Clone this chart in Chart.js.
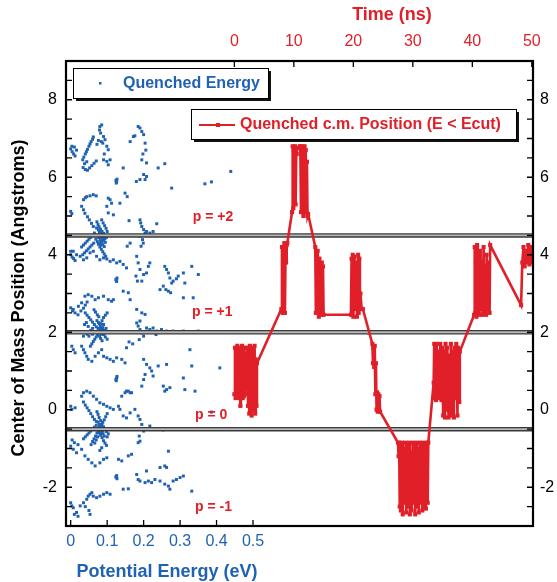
<!DOCTYPE html>
<html>
<head>
<meta charset="utf-8">
<script src="https://cdn.jsdelivr.net/npm/chart.js@4.4.0/dist/chart.umd.min.js"></script>
<style>
  body { margin: 0; background: #fff; }
  canvas { display: block; }
</style>
</head>
<body>
<canvas id="chart" width="557" height="582"></canvas>
<script>
// tick labels
const energyTicks = [0, 0.1, 0.2, 0.3, 0.4, 0.5];
const timeTicks = [0, 10, 20, 30, 40, 50];
const positionTicks = [-2, 0, 2, 4, 6, 8];
const barrierLines = [4.5, 2.0, -0.5];
const pLabels = ['p = +2', 'p = +1', 'p = 0', 'p = -1'];

// quenched energy points [eV, Angstrom]
const bandTop = [
  [0.000,6.73],[0.004,6.66],[0.008,6.6],[0.012,6.55],[0.003,6.8],[0.010,6.78],[0.016,6.7],
  [0.033,6.45],[0.036,6.52],[0.040,6.6],[0.043,6.66],[0.046,6.72],[0.050,6.8],[0.053,6.86],[0.056,6.92],[0.060,6.98],[0.062,7.04],
  [0.034,6.25],[0.040,6.2],[0.046,6.18],[0.052,6.24],[0.058,6.3],[0.064,6.36],[0.070,6.42],[0.038,6.35],[0.044,6.4],
  [0.080,7.31],[0.085,7.35],[0.079,7.22],[0.082,7.14],[0.090,7.05],[0.094,6.97],[0.088,6.88],[0.099,6.8],[0.103,6.71],
  [0.090,6.45],[0.099,6.41],[0.108,6.45],[0.103,6.32],[0.076,6.95],[0.072,6.85],[0.084,6.92],[0.092,6.6],
  [0.124,5.92],[0.126,5.88],[0.127,5.95],[0.125,5.85],
  [0.144,6.24],[0.163,6.92],[0.172,7.05],[0.176,7.07],
  [0.185,7.31],[0.19,7.27],[0.195,7.18],[0.2,7.1],[0.204,6.88],[0.208,6.37],[0.195,6.45],[0.2,6.07],
  [0.208,6.02],[0.204,5.94],[0.19,5.94],[0.18,5.89],[0.198,6.6],[0.206,6.7],
  [0.24,6.24],[0.258,6.35],[0.277,5.72],[0.368,5.83],[0.386,5.88],[0.439,6.15]
];
const bandUpper = [
  [0.135,5.33],[0.149,5.59],[0.155,5.5],[0.16,4.88],
  [0.035,5.42],[0.04,5.47],[0.044,5.5],[0.053,5.52],[0.062,5.55],[0.07,5.52],
  [0.103,5.46],[0.108,5.42],[0.112,5.33],[0.099,5.25],[0.103,5.08],[0.117,5.03],
  [0.0,5.12],[0.003,5.06],
  [0.03,5.25],[0.035,5.16],[0.039,5.07],[0.046,4.98],[0.051,4.9],[0.057,4.81],[0.062,4.73],[0.071,4.69],
  [0.076,4.64],[0.08,4.55],[0.085,4.47],[0.089,4.39],
  [0.072,4.85],[0.075,4.78],[0.078,4.72],[0.082,4.66],[0.086,4.6],[0.09,4.55],[0.094,4.5],[0.098,4.45],
  [0.074,4.5],[0.077,4.44],[0.081,4.38],[0.084,4.32],[0.088,4.26],[0.092,4.21],[0.079,4.6],[0.083,4.52],
  [0.087,4.45],[0.091,4.38],[0.095,4.32],[0.069,4.4],[0.073,4.34],[0.076,4.27],[0.08,4.2],[0.084,4.14],
  [0.088,4.08],[0.092,4.02],[0.096,3.96],[0.1,4.6],[0.097,4.68],[0.093,4.75],[0.089,4.82],[0.085,4.9],
  [0.078,4.5],[0.082,4.45],[0.086,4.52],[0.09,4.47],[0.079,4.3],[0.083,4.25],[0.087,4.35],[0.094,4.42],
  [0.03,4.2],[0.035,4.25],[0.04,4.3],[0.045,4.35],[0.05,4.4],[0.055,4.45],[0.06,4.5],[0.065,4.56],
  [0.033,4.0],[0.038,4.05],[0.043,4.1],[0.048,4.15],[0.053,4.2],[0.058,4.25],[0.063,4.3],
  [0.0,4.0],[0.004,3.94],[0.008,3.9],[0.012,3.85],[0.0,4.09],
  [0.007,4.09],[0.016,4.0],[0.026,3.96],[0.035,3.87],[0.044,3.92],[0.053,4.05],[0.062,4.09],[0.071,3.96],
  [0.08,3.87],[0.09,3.92],[0.099,3.89],[0.108,3.83],[0.117,3.87],[0.126,3.79],[0.135,3.83],[0.144,3.75],[0.153,3.66],
  [0.19,4.9],[0.192,4.82],[0.195,4.73],[0.2,4.65],[0.204,4.56],[0.208,4.6],[0.19,4.48],[0.197,4.39],
  [0.217,4.56],[0.226,4.6],[0.236,4.8],[0.199,4.3],[0.193,4.22],[0.155,4.22],[0.163,4.3]
];
const bandMiddle = [
  [0.124,3.36],[0.126,3.31],[0.127,3.4],[0.125,3.34],
  [0.181,3.96],[0.185,3.79],[0.19,3.62],[0.179,3.45],[0.183,3.32],[0.195,3.32],[0.2,3.49],[0.208,3.53],[0.213,3.7],[0.217,3.79],
  [0.258,3.7],[0.263,3.62],[0.268,3.53],[0.272,3.4],[0.277,3.27],[0.261,3.1],[0.268,3.06],[0.274,3.02],[0.245,3.1],
  [0.254,3.19],[0.281,3.32],[0.29,3.38],[0.295,3.45],[0.309,3.53],[0.313,3.27],[0.332,3.7],[0.35,3.49],[0.309,2.89],[0.336,2.89],
  [0.144,3.06],[0.158,3.02],[0.163,2.84],[0.117,2.84],
  [0.181,2.59],[0.195,2.5],[0.19,2.29],[0.204,2.46],
  [0.0,2.63],[0.007,2.59],[0.021,2.67],[0.03,2.76],[0.039,2.93],[0.048,2.97],[0.058,2.93],[0.067,2.84],
  [0.076,2.89],[0.09,2.93],[0.103,2.84],[0.112,2.8],
  [0.005,2.55],[0.012,2.5],[0.02,2.45],[0.028,2.55],[0.035,2.62],[0.04,2.7],[0.045,2.78],
  [0.04,2.5],[0.045,2.44],[0.05,2.38],[0.055,2.32],[0.06,2.26],[0.065,2.2],[0.07,2.14],[0.075,2.1],[0.08,2.05],
  [0.085,2.0],[0.09,1.94],[0.095,1.88],[0.1,1.82],
  [0.1,2.5],[0.095,2.44],[0.09,2.38],[0.086,2.3],[0.083,2.22],[0.078,2.0],[0.074,1.94],[0.07,1.88],[0.066,1.82],
  [0.062,1.76],[0.058,1.7],[0.054,1.64],
  [0.072,2.3],[0.076,2.25],[0.081,2.16],[0.084,2.1],[0.088,2.12],[0.079,1.9],[0.082,1.84],[0.086,1.78],
  [0.077,2.4],[0.073,2.45],[0.068,2.52],[0.064,2.58],
  [0.078,2.1],[0.082,2.02],[0.086,2.08],[0.079,2.22],[0.084,1.95],[0.075,2.02],[0.09,2.2],[0.093,1.98],
  [0.04,2.0],[0.045,1.95],[0.05,1.9],[0.055,2.05],[0.06,2.1],[0.035,1.9],[0.038,2.2],[0.043,2.25],[0.048,2.15],
  [0.092,2.05],[0.097,2.1],[0.102,2.02],[0.066,2.02],[0.06,1.95],
  [0.003,1.64],[0.007,1.55],[0.012,1.47],[0.03,1.64],[0.035,1.55],[0.039,1.47],[0.044,1.38],[0.048,1.3],
  [0.058,1.25],[0.067,1.38],[0.076,1.47],[0.085,1.55],[0.09,1.38],[0.099,1.34],[0.108,1.3],[0.117,1.25],
  [0.126,1.34],[0.14,1.3],[0.149,1.21],
  [0.181,2.24],[0.185,2.16],[0.19,2.07],[0.195,1.98],[0.2,1.9],[0.188,1.81],[0.208,2.11],[0.217,2.07],
  [0.226,2.11],[0.236,2.03],[0.234,1.94],[0.249,2.07],[0.263,2.03],[0.281,2.03],[0.309,2.03],[0.35,2.03],
  [0.153,1.6],[0.2,1.3],[0.208,1.17],[0.217,1.08],[0.222,1.0],[0.226,0.87],[0.204,0.91],[0.2,0.78],[0.195,0.61],
  [0.263,1.17],[0.24,1.13],[0.327,1.55],[0.332,1.13],[0.409,1.08],[0.309,0.82],[0.313,0.52],[0.341,0.48],
  [0.254,0.61],[0.263,0.52],[0.272,0.57],[0.258,0.48],
  [0.126,0.82],[0.124,0.78],[0.127,0.86],[0.125,0.75],
  [0.153,0.48],[0.163,0.44],[0.16,1.75],[0.17,1.7]
];
const bandLower = [
  [0.0,0.09],[0.003,0.01],[0.012,0.05],[0.03,0.35],[0.035,0.44],[0.044,0.48],[0.053,0.44],[0.062,0.35],
  [0.071,0.27],[0.08,0.18],[0.09,0.14],[0.099,0.09],[0.108,0.05],[0.117,0.01],[0.131,0.09],[0.14,0.35],
  [0.149,0.44],[0.158,0.48],[0.167,0.44],
  [0.035,0.2],[0.04,0.12],[0.045,0.05],[0.05,-0.02],[0.055,-0.1],[0.06,-0.18],[0.065,-0.25],[0.07,-0.3],
  [0.072,-0.05],[0.075,-0.12],[0.078,-0.2],[0.082,-0.28],[0.086,-0.36],[0.09,-0.44],[0.094,-0.5],[0.098,-0.56],
  [0.1,-0.1],[0.096,-0.18],[0.092,-0.26],[0.088,-0.32],[0.084,-0.4],[0.08,-0.46],[0.076,-0.54],[0.072,-0.6],
  [0.068,-0.68],[0.064,-0.75],[0.06,-0.82],[0.056,-0.9],
  [0.078,-0.6],[0.082,-0.66],[0.086,-0.72],[0.09,-0.8],[0.094,-0.86],[0.098,-0.92],[0.074,-0.7],[0.07,-0.78],
  [0.066,-0.86],[0.083,-0.5],[0.087,-0.55],[0.079,-0.38],[0.075,-0.32],[0.07,-0.4],[0.065,-0.45],[0.06,-0.5],
  [0.055,-0.55],[0.05,-0.6],[0.045,-0.65],[0.04,-0.7],[0.035,-0.75],[0.085,-0.98],[0.08,-1.05],[0.1,-0.7],[0.103,-0.62],
  [0.079,-0.52],[0.084,-0.6],[0.077,-0.45],[0.081,-0.55],[0.089,-0.62],[0.074,-0.5],[0.092,-0.68],[0.086,-0.45],
  [0.135,0.01],[0.144,-0.16],[0.153,-0.21],[0.163,-0.08],[0.176,0.01],[0.185,-0.16],[0.19,-0.25],[0.195,-0.38],
  [0.2,-0.55],[0.188,-0.68],[0.208,-0.51],[0.217,-0.42],[0.236,-0.51],[0.254,-0.52],[0.19,-0.81],[0.185,-0.85],[0.386,-0.06],
  [0.0,-0.94],[0.007,-1.02],[0.016,-1.11],[0.03,-1.02],[0.039,-1.19],[0.048,-1.28],[0.058,-1.37],[0.067,-1.45],
  [0.08,-1.37],[0.09,-1.28],[0.099,-1.24],[0.004,-0.78],[0.01,-0.85],[0.02,-0.9]
];
const bandBottom = [
  [0.131,-1.28],[0.14,-1.32],[0.158,-1.19],[0.167,-1.15],
  [0.124,-1.74],[0.126,-1.7],[0.127,-1.78],[0.125,-1.72],
  [0.181,-1.67],[0.185,-1.8],[0.19,-1.84],[0.204,-1.88],[0.213,-1.84],[0.222,-1.88],[0.231,-1.8],[0.245,-1.84],
  [0.258,-1.92],[0.268,-1.97],[0.272,-2.05],[0.281,-1.84],[0.29,-1.8],[0.3,-1.75],[0.309,-1.71],[0.258,-1.45],
  [0.263,-1.49],[0.268,-1.07],[0.208,-1.58],[0.245,-1.49],
  [0.144,-2.05],[0.158,-2.04],[0.332,-2.1],
  [0.0,-2.4],[0.003,-2.48],[0.007,-2.53],[0.016,-2.65],[0.026,-2.48],[0.035,-2.4],[0.044,-2.31],[0.048,-2.23],
  [0.053,-2.18],[0.058,-2.14],[0.062,-2.23],[0.071,-2.27],[0.08,-2.23],[0.09,-2.18],[0.099,-2.14],[0.108,-2.18],
  [0.053,-2.7],[0.05,-2.6],[0.04,-2.5],[0.01,-2.7],[0.02,-2.75]
];

// quenched c.m. position vs time [ns, Angstrom]
const cmTrace = [
  [0.0,0.4],[0.1,1.6],[0.2,0.3],[0.3,1.5],[0.4,0.35],[0.5,1.65],[0.6,0.4],[0.7,1.3],[0.8,0.3],[0.9,1.6],
  [1.0,0.1],[1.1,1.5],[1.2,0.4],[1.3,1.65],[1.4,0.3],[1.5,1.2],[1.6,0.35],[1.7,1.6],[1.8,0.4],
  [2.2,1.6],[2.3,0.1],[2.4,1.5],[2.5,-0.1],[2.6,1.65],[2.7,0.3],[2.8,1.4],[2.9,-0.15],[3.0,1.6],[3.1,0.0],
  [3.2,1.5],[3.3,0.35],[3.4,1.65],[3.5,-0.1],[3.6,1.3],[3.7,0.1],[3.8,1.2],
  [7.9,2.6],[8.0,4.2],[8.1,2.5],[8.2,3.9],[8.3,2.8],[8.4,4.3],[8.5,2.5],[8.6,4.0],[8.7,3.8],[8.8,4.25],[8.9,4.3],
  [9.7,5.1],[9.8,6.8],[9.9,5.2],[10.0,6.7],[10.1,6.3],[10.2,6.8],[10.3,5.3],[10.4,6.6],[10.5,6.75],
  [11.0,6.8],[11.1,6.6],[11.2,5.1],[11.3,6.8],[11.4,5.3],[11.5,6.7],[11.6,5.0],[11.7,6.5],[11.8,6.8],
  [11.9,5.2],[12.0,6.7],[12.1,5.1],[12.2,6.4],[12.3,5.0],[12.4,5.05],
  [13.6,4.2],[13.7,2.5],[13.8,4.0],[13.9,2.6],[14.0,4.1],[14.1,3.8],[14.2,2.4],[14.3,3.9],[14.4,2.5],
  [14.5,3.6],[14.6,2.45],[14.7,3.8],[14.8,2.5],[14.9,3.7],[15.0,2.45],
  [19.6,2.45],[19.7,3.9],[19.8,2.5],[19.9,4.0],[20.0,2.4],[20.2,3.95],[20.3,2.6],[20.5,3.8],[20.6,2.4],
  [20.8,4.0],[20.9,2.5],[21.0,3.9],[21.1,2.7],[21.2,3.0],[21.4,2.6],[21.6,2.6],
  [23.2,1.7],[23.3,1.2],[23.4,1.6],[23.5,1.1],[23.6,1.65],[23.7,0.4],[23.8,1.2],[23.9,0.0],[24.0,0.45],
  [24.1,-0.05],[24.2,0.4],[24.3,0.0],[24.4,0.35],[24.5,-0.05],
  [27.5,-0.85],[27.6,-1.2],[27.7,-0.85],[27.8,-2.5],[27.9,-0.9],[28.0,-2.6],[28.2,-0.85],[28.3,-2.7],
  [28.5,-1.0],[28.6,-2.4],[28.8,-0.85],[28.9,-2.65],[29.1,-0.9],[29.2,-2.5],[29.4,-0.85],[29.5,-2.7],
  [29.7,-1.1],[29.8,-2.6],[30.0,-0.85],[30.1,-2.4],[30.3,-0.9],[30.4,-2.7],[30.6,-0.85],[30.7,-2.5],
  [30.9,-1.0],[31.0,-2.65],[31.2,-0.85],[31.3,-2.4],[31.5,-0.9],[31.6,-2.6],[31.8,-0.85],[31.9,-2.5],
  [32.1,-0.9],[32.2,-2.55],[32.4,-0.85],[32.5,-2.4],[32.6,-0.85],
  [33.5,0.7],[33.6,1.7],[33.7,0.3],[33.8,1.6],[33.9,0.25],[34.0,1.7],[34.2,0.3],[34.3,1.5],[34.5,0.35],
  [34.6,1.7],[34.8,0.25],[34.9,1.6],[35.1,-0.15],[35.2,1.5],[35.4,-0.2],[35.5,1.7],[35.7,0.0],[35.8,1.6],
  [36.0,-0.2],[36.1,1.4],[36.3,-0.15],[36.4,1.7],[36.6,-0.1],[36.7,1.5],[36.9,-0.2],[37.0,1.6],[37.2,0.3],
  [37.3,1.7],[37.5,-0.15],[37.6,1.6],[37.8,0.2],[37.9,1.5],
  [40.3,2.45],[40.4,4.2],[40.5,2.5],[40.6,3.8],[40.7,2.4],[40.8,4.25],[40.9,2.5],[41.0,3.9],[41.2,2.45],
  [41.3,4.1],[41.4,2.6],[41.6,3.8],[41.7,2.45],[41.9,4.2],[42.0,2.5],[42.1,3.7],[42.3,2.45],[42.4,4.0],
  [42.6,2.6],[42.7,3.8],[42.9,2.5],[43.0,4.25],
  [48.2,2.7],[48.4,3.8],[48.6,4.2],[48.8,3.7],[49.0,4.1],[49.2,3.8],[49.4,4.25],[49.6,3.75],[49.8,4.2],[50.0,3.8]
];

const BLUE = '#1f62b3';
const RED = '#e01f28';
const FONT = "'Liberation Sans', Arial, sans-serif";

const toXY = arr => arr.map(p => ({ x: p[0], y: p[1] }));
const quenchedEnergy = toXY([].concat(bandTop, bandUpper, bandMiddle, bandLower, bandBottom));

const timeMin = -28.3, timeMax = 50.2;

const lineSets = [];
barrierLines.forEach(v => {
  const pts = [{ x: timeMin, y: v }, { x: timeMax, y: v }];
  lineSets.push({ data: pts, xAxisID: 'xT', showLine: true, pointRadius: 0, borderColor: '#3a3a3a', borderWidth: 4.5, order: 2 });
  lineSets.push({ data: pts, xAxisID: 'xT', showLine: true, pointRadius: 0, borderColor: '#b8b8b8', borderWidth: 1.8, order: 1 });
});

function setTicks(list) {
  return scale => { scale.ticks = list.map(v => ({ value: v })); };
}

const decor = {
  id: 'decor',
  afterDatasetsDraw(chart) {
    const ctx = chart.ctx, a = chart.chartArea, s = chart.scales;
    ctx.save();
    ctx.strokeStyle = '#000';
    ctx.lineWidth = 1.3;
    ctx.beginPath();
    for (let v = -3; v <= 9; v += 0.5) {
      const y = s.y.getPixelForValue(v);
      ctx.moveTo(a.left, y); ctx.lineTo(a.left + 6, y);
      ctx.moveTo(a.right, y); ctx.lineTo(a.right - 6, y);
    }
    timeTicks.forEach(v => {
      const x = s.xT.getPixelForValue(v);
      ctx.moveTo(x, a.top); ctx.lineTo(x, a.top + 6);
    });
    energyTicks.forEach(v => {
      const x = s.xE.getPixelForValue(v);
      ctx.moveTo(x, a.bottom); ctx.lineTo(x, a.bottom - 6);
    });
    ctx.stroke();
    ctx.lineWidth = 2.2;
    ctx.strokeRect(a.left, a.top, a.right - a.left, a.bottom - a.top);

    // p labels
    ctx.fillStyle = RED;
    ctx.font = 'bold 14px ' + FONT;
    ctx.textAlign = 'left';
    ctx.textBaseline = 'middle';
    const pe = [0.335, 0.333, 0.341, 0.341];
    const pp = [4.96, 2.51, -0.14, -2.52];
    pLabels.forEach((t, i) => {
      ctx.fillText(t, s.xE.getPixelForValue(pe[i]), s.y.getPixelForValue(pp[i]));
    });
    ctx.restore();
  },
  afterDraw(chart) {
    const ctx = chart.ctx;
    ctx.save();
    function box(x1, y1, x2, y2) {
      ctx.fillStyle = '#111';
      ctx.fillRect(x1 + 3, y1 + 3, x2 - x1, y2 - y1);
      ctx.fillStyle = '#fff';
      ctx.fillRect(x1, y1, x2 - x1, y2 - y1);
      ctx.strokeStyle = '#000';
      ctx.lineWidth = 1;
      ctx.strokeRect(x1 + 0.5, y1 + 0.5, x2 - x1, y2 - y1);
    }
    ctx.font = 'bold 16px ' + FONT;
    ctx.textBaseline = 'middle';
    ctx.textAlign = 'left';
    // legend 1
    box(73, 68, 268, 98);
    ctx.fillStyle = BLUE;
    ctx.fillRect(99, 82, 2.5, 2.5);
    ctx.fillText('Quenched Energy', 123, 84);
    // legend 2
    box(191, 109, 516, 139);
    ctx.strokeStyle = RED;
    ctx.lineWidth = 2;
    ctx.beginPath(); ctx.moveTo(199, 125); ctx.lineTo(235, 125); ctx.stroke();
    ctx.fillStyle = RED;
    ctx.fillRect(216, 123, 4, 4);
    ctx.fillText('Quenched c.m. Position (E < Ecut)', 240, 125);

    // axis titles
    ctx.font = 'bold 18px ' + FONT;
    ctx.textAlign = 'center';
    ctx.fillStyle = RED;
    ctx.fillText('Time (ns)', 392, 15);
    ctx.fillStyle = BLUE;
    ctx.fillText('Potential Energy (eV)', 167, 572);
    ctx.fillStyle = '#000';
    ctx.translate(19, 298);
    ctx.rotate(-Math.PI / 2);
    ctx.fillText('Center of Mass Position (Angstroms)', 0, 0);
    ctx.restore();
  }
};

const noGrid = { display: false, drawTicks: false };
const noBorder = { display: false };

new Chart(document.getElementById('chart'), {
  type: 'scatter',
  data: {
    datasets: [
      {
        label: 'Quenched c.m. Position (E < Ecut)',
        data: toXY(cmTrace),
        xAxisID: 'xT',
        showLine: true,
        borderColor: RED,
        borderWidth: 2.6,
        pointStyle: 'rect',
        pointRadius: 2.9,
        pointBackgroundColor: RED,
        pointBorderColor: RED,
        pointBorderWidth: 0,
        order: 0
      },
      ...lineSets,
      {
        label: 'Quenched Energy',
        data: quenchedEnergy,
        xAxisID: 'xE',
        pointStyle: 'rect',
        pointRadius: 2.1,
        pointBackgroundColor: BLUE,
        pointBorderWidth: 0,
        order: 3
      }
    ]
  },
  options: {
    responsive: false,
    animation: false,
    events: [],
    layout: { padding: 0 },
    plugins: { legend: { display: false }, tooltip: { enabled: false } },
    scales: {
      xE: {
        type: 'linear', position: 'bottom',
        min: -0.0129, max: 1.268,
        afterBuildTicks: setTicks(energyTicks),
        afterFit: s => { s.height = 56; },
        grid: noGrid, border: noBorder,
        ticks: { color: BLUE, font: { family: FONT, size: 16 }, padding: 6, maxRotation: 0,
          callback: v => v === 0 ? '0' : v.toFixed(1) }
      },
      xT: {
        type: 'linear', position: 'top',
        min: timeMin, max: timeMax,
        afterBuildTicks: setTicks(timeTicks),
        afterFit: s => { s.height = 61; },
        grid: noGrid, border: noBorder,
        ticks: { color: RED, font: { family: FONT, size: 16 }, padding: 10, maxRotation: 0 }
      },
      y: {
        type: 'linear', position: 'left',
        min: -3, max: 9,
        afterBuildTicks: setTicks(positionTicks),
        afterFit: s => { s.width = 66; },
        grid: noGrid, border: noBorder,
        ticks: { color: '#000', font: { family: FONT, size: 16 }, padding: 9 }
      },
      y2: {
        type: 'linear', position: 'right',
        min: -3, max: 9,
        afterBuildTicks: setTicks(positionTicks),
        afterFit: s => { s.width = 24; },
        grid: noGrid, border: noBorder,
        ticks: { color: '#000', font: { family: FONT, size: 16 }, padding: 7 }
      }
    }
  },
  plugins: [decor]
});
</script>
</body>
</html>
